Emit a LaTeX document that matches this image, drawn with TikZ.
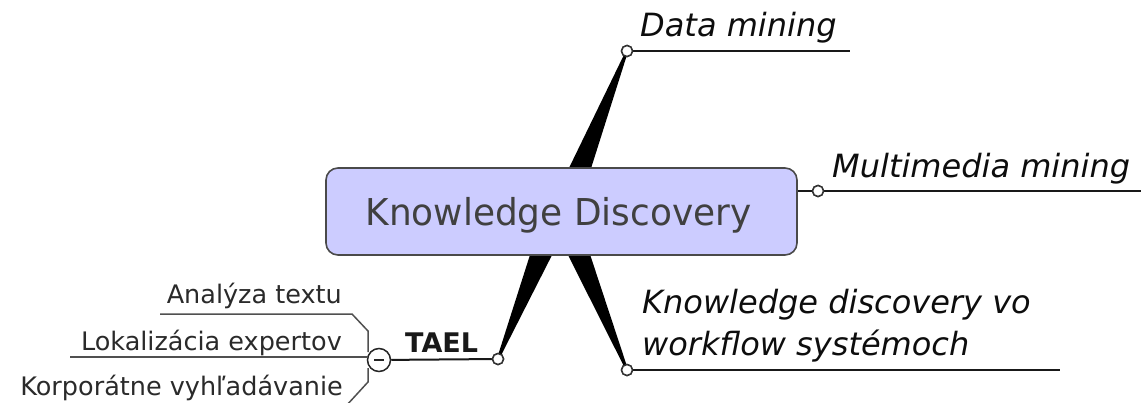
\documentclass[tikz,border=0pt]{standalone}
\usepackage{fontspec}
\setmainfont{DejaVu Sans}
\newfontfamily\titlefont[FakeStretch=0.97]{DejaVu Sans}
\definecolor{boxfill}{HTML}{CCCCFF}
\definecolor{boxline}{HTML}{4A4A4A}
\definecolor{titletext}{HTML}{404040}
\definecolor{subline}{HTML}{505050}
\definecolor{subtext}{HTML}{2A2A2A}
\begin{document}
\begin{tikzpicture}[x=1pt,y=-1pt,
  dot/.style={circle,draw=black!80,fill=white,line width=1.5pt,inner sep=0pt,minimum size=11pt},
  minuscirc/.style={circle,draw=black!85,fill=white,line width=1.5pt,inner sep=0pt,minimum size=23pt},
  centralbox/.style={rectangle,rounded corners=12pt,draw=boxline,fill=boxfill,line width=1.6pt,minimum width=471pt,minimum height=87pt,inner sep=0pt},
  wedge/.style={fill=black},
  mainline/.style={draw=black!90,line width=2pt},
  subln/.style={draw=subline,line width=1.5pt},
  branchtext/.style={anchor=base west,inner sep=0pt,font=\fontsize{32}{40}\selectfont\itshape,text=black!95},
  subtxt/.style={anchor=base east,inner sep=0pt,font=\fontsize{25.5}{30}\selectfont,text=subtext}
]
\clip (0,0) rectangle (1141,402);
% wedge base coordinates (hidden under the central box)
\coordinate (dmL) at (565.6,175);
\coordinate (dmR) at (588.9,175);
\coordinate (taL) at (532.2,248);
\coordinate (taR) at (555.6,248);
\coordinate (kvL) at (564.5,248);
\coordinate (kvR) at (587.9,248);
% branch end dots
\node[dot] (dm) at (627,51) {};
\node[dot] (mm) at (818,191) {};
\node[dot] (kv) at (627,370) {};
\node[dot] (ta) at (498,359) {};
% tapered branches
\fill[wedge] (dmL) -- (dmR) -- ([xshift=1.2pt]dm.center) -- ([xshift=-1.2pt]dm.center) -- cycle;
\fill[wedge] (taL) -- (taR) -- ([xshift=1.2pt]ta.center) -- ([xshift=-1.2pt]ta.center) -- cycle;
\fill[wedge] (kvL) -- (kvR) -- ([xshift=1.2pt]kv.center) -- ([xshift=-1.2pt]kv.center) -- cycle;
% central topic
\node[centralbox] (kd) at (561.5,211.5) {};
\node[inner sep=0pt,anchor=base,font=\titlefont\fontsize{37}{44}\selectfont,text=titletext] (kdt) at (558.5,225) {Knowledge Discovery};
% underlines
\coordinate (dmE) at (850,51);
\coordinate (mmE) at (1141,191);
\coordinate (kvE) at (1060,370);
\draw[mainline] (dm) -- (dmE);
\draw[mainline] (kd.east |- mm) -- (mm);
\draw[mainline] (mm) -- (mmE);
\draw[mainline] (kv) -- (kvE);
% re-draw dots on top
\node[dot] at (dm) {};
\node[dot] at (mm) {};
\node[dot] at (kv) {};
% TAEL
\node[minuscirc] (mc) at (379,360) {};
\draw[mainline] (mc) -- (ta);
\node[dot] at (ta) {};
\draw[line width=1.5pt,black!85] ([xshift=-5pt]mc.center) -- ([xshift=5pt]mc.center);
% sub branches
\coordinate (a1) at (160,314);
\coordinate (a2) at (352,314);
\coordinate (a3) at (368,331);
\coordinate (a4) at (368,352);
\coordinate (l1) at (70,357);
\coordinate (l2) at (368,357);
\coordinate (k1) at (368,368);
\coordinate (k2) at (368,382);
\coordinate (k3) at (346,406);
\coordinate (k4) at (10,406);
\draw[subln] (a1) -- (a2) -- (a3) -- (a4);
\draw[subln] (l1) -- (l2);
\draw[subln] (k1) -- (k2) -- (k3) -- (k4);
% texts
\node[branchtext] (dmt) at (640,36) {Data mining};
\node[branchtext] (mmt) at (832,177) {Multimedia mining};
\node[branchtext] (kvt1) at (642,313) {Knowledge discovery vo};
\node[branchtext] (kvt2) at (642,355) {workflow systémoch};
\node[anchor=base west,inner sep=0pt,font=\fontsize{27}{32}\selectfont\bfseries,text=black!90] (tat) at (405,352) {TAEL};
\node[subtxt] (st1) at (342,303) {Analýza textu};
\node[subtxt] (st2) at (342,350) {Lokalizácia expertov};
\node[subtxt] (st3) at (343,395) {Korporátne vyhľadávanie};
\end{tikzpicture}
\end{document}
